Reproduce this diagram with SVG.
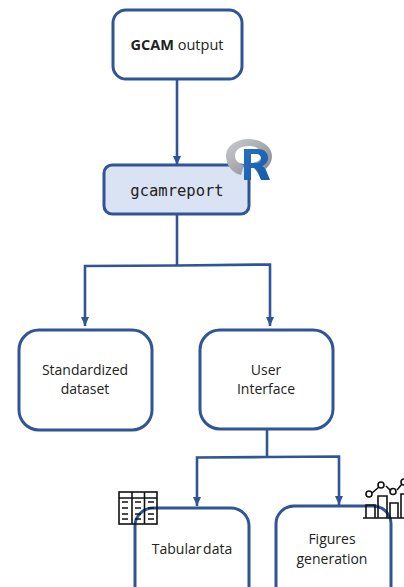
<svg xmlns="http://www.w3.org/2000/svg" width="404" height="587" viewBox="0 0 404 587">
<style>
.box{fill:#fff;stroke:#2f5597;stroke-width:3}
.hl{fill:#dae3f3}
.t{font-family:"Open Sans","Noto Sans",sans-serif;font-size:14px;fill:#222;text-anchor:middle}
.m{font-family:"DejaVu Sans Mono",monospace;font-size:15.500px;fill:#222;text-anchor:middle}
.c{fill:none;stroke:#2f5597;stroke-width:2.6}
.ic{fill:none;stroke:#111;stroke-width:1.6}
</style>
<defs>
<marker id="a" markerUnits="userSpaceOnUse" markerWidth="10" markerHeight="8" refX="9" refY="4" orient="auto"><path d="M0 0L9 4L0 8Z" fill="#2f5597"/></marker>
<linearGradient id="rg" x1="0" y1="0" x2="1" y2="1"><stop offset="0" stop-color="#cbced0"/><stop offset="1" stop-color="#85858c"/></linearGradient>
<linearGradient id="rb" x1="0" y1="0" x2="1" y2="1"><stop offset="0" stop-color="#276dc3"/><stop offset="1" stop-color="#165caa"/></linearGradient>
</defs>
<g id="connectors">
<path class="c" d="M177 79V165" marker-end="url(#a)"/>
<path class="c" d="M177 214V265"/>
<path class="c" d="M177 265.500L85 266V326" marker-end="url(#a)"/>
<path class="c" d="M177 265.500L270 264.500V326" marker-end="url(#a)"/>
<path class="c" d="M267 429V457"/>
<path class="c" d="M267 457L197 457.500V506" marker-end="url(#a)"/>
<path class="c" d="M267 457L339 456.500V505" marker-end="url(#a)"/>
</g>
<g id="node-gcam"><rect class="box" x="113" y="10" width="129" height="69" rx="13"/>
<text class="t" x="177" y="50" style="font-size:14.500px"><tspan font-weight="700">GCAM</tspan> output</text></g>
<g id="node-gcamreport"><rect class="box hl" x="104" y="165" width="145" height="49" rx="8"/>
<text class="m" x="177" y="196">gcamreport</text></g>
<g id="r-logo">
<path fill-rule="evenodd" fill="url(#rg)" d="M249 139C260 139 272 146 272 156C272 166 264 171 258 173L250 163C256 163 262 160 262 155C262 150 256 146 249 146C240 146 235 150 235 156C235 161 240 164 244 165L241 175C232 173 226 165 226 156C226 146 236 139 249 139Z"/>
<path fill-rule="evenodd" fill="url(#rb)" d="M244 149H258C265 149 268 153 268 158C268 162 265 165 262 166C264 167 265 168 266 170L270 180H261L257 171C256 169 255 168 252 168H251V180H244ZM251 154V163H256C259 163 261 161 261 158.500C261 156 259 154 256 154Z"/>
</g>
<g id="node-standardized"><rect class="box" x="19" y="330" width="133" height="100" rx="20"/>
<text class="t" x="85" y="375">Standardized</text><text class="t" x="85" y="394">dataset</text></g>
<g id="node-ui"><rect class="box" x="200" y="330" width="133" height="99" rx="20"/>
<text class="t" x="266" y="375">User</text><text class="t" x="266" y="394">Interface</text></g>
<g id="node-tabular"><rect class="box" x="135" y="508" width="114" height="100" rx="18"/>
<text class="t" x="192" y="554" word-spacing="-2">Tabular data</text></g>
<g id="node-figures"><rect class="box" x="276" y="506" width="115" height="100" rx="18"/>
<text class="t" x="332" y="544">Figures</text><text class="t" x="332" y="564">generation</text></g>
<g id="icon-table">
<rect class="ic" x="119" y="492" width="38" height="32"/>
<path class="ic" d="M119 498H157M132 492V524M144.500 492V524"/>
<path stroke="#111" stroke-width="1.600" d="M122 502H128M122 508H128M122 514H128M122 519H128M135 502H141M135 508H141M135 514H141M135 519H141M148 502H154M148 508H154M148 514H154M148 519H154"/>
</g>
<g id="icon-chart">
<path class="ic" d="M363 518H404M366 518V505H375V518M378 518V496H387V518M390 518V503H398V518M401 518V494H404"/>
<path class="ic" d="M372 493L379 487M386 486L391 491M397 490L402 484"/>
<circle class="ic" cx="369" cy="494" r="3"/><circle class="ic" cx="381" cy="485" r="3"/><circle class="ic" cx="393" cy="491.500" r="3"/><circle class="ic" cx="404" cy="482" r="3"/>
</g>
</svg>
